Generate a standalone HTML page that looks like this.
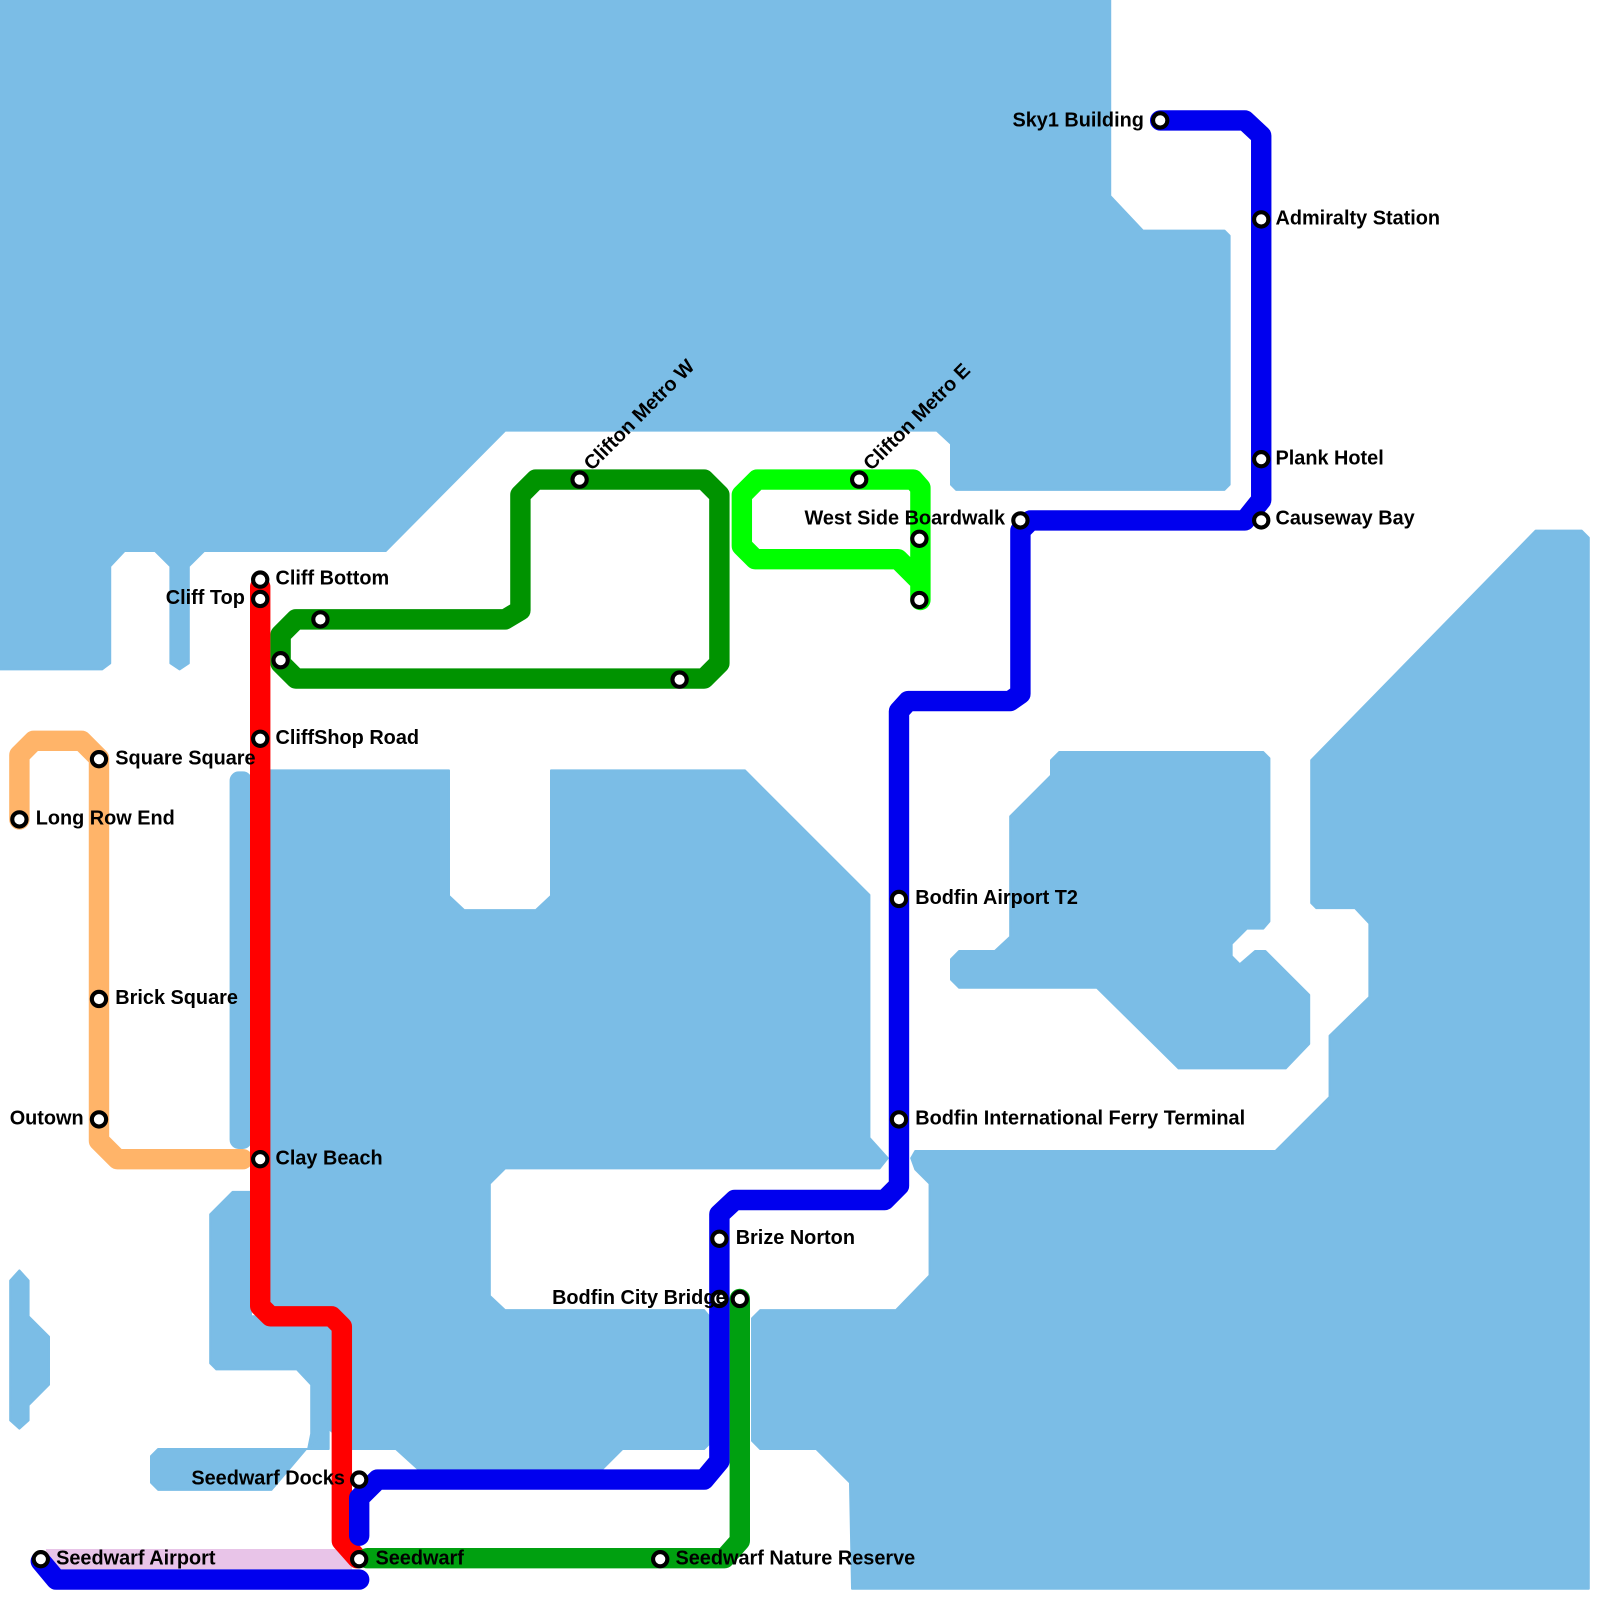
<!DOCTYPE html>
<html><head><meta charset="utf-8"><style>
html,body{margin:0;padding:0;background:#fff}
svg{display:block}
text{font-family:"Liberation Sans",Arial,sans-serif;font-weight:bold;font-size:19.5px;fill:#000}
</style></head><body>
<svg width="1600" height="1600" viewBox="0 0 1568 1568" xmlns="http://www.w3.org/2000/svg">
<g fill="#7bbde6" stroke="#7bbde6" stroke-width="2" stroke-linejoin="round">
<polygon points="0,0 1088,0 1088,192 1120,226 1200,226 1205,231 1205,475 1200,480 937,480 932,475 932,435 918,422 495,422 378,540 200,540 185,555 185,650 176,656 167,650 167,555 152,540 122,540 108,555 108,650 100,656 0,656"/>
<rect x="226" y="757" width="20" height="368" rx="8"/>
<polygon points="255,755 440,755 440,878 455,892 525,892 540,878 540,755 730,755 852,877 852,1115 870,1135 862,1145 495,1145 480,1160 480,1270 495,1284 690,1284 695,1290 695,1415 690,1420 610,1420 590,1440 410,1440 388,1420 345,1420 322,1400 322,1300 255,1290"/>
<polygon points="206,1190 228,1168 246,1168 246,1290 322,1290 322,1420 302,1420 305,1405 305,1357 291,1342 212,1342 206,1336"/>
<polygon points="155,1420 302,1420 322,1398 322,1420 300,1420 266,1460 155,1460 148,1453 148,1427"/>
<polygon points="10,1255 19,1245 28,1255 28,1290 48,1310 48,1357 28,1377 28,1392 19,1400 10,1392"/>
<polygon points="897,1128 1250,1128 1303,1075 1303,1015 1342,977 1342,905 1328,890 1290,890 1285,885 1285,745 1505,520 1550,520 1557,527 1557,1557 835,1557 833,1453 800,1420 745,1420 737,1412 737,1292 745,1284 878,1284 911,1250 911,1160 897,1146 893,1135"/>
<polygon points="1030,745 1038,737 1238,737 1244,743 1244,903 1238,910 1222,910 1207,925 1207,937 1215,945 1230,932 1240,932 1283,975 1283,1023 1260,1047 1155,1047 1075,968 940,968 932,960 932,940 940,932 975,932 990,918 990,800 1030,760"/>
</g>
<g fill="none" stroke-width="20" stroke-linejoin="round" stroke-linecap="round">
<polyline stroke="#e8c4e8" stroke-linecap="butt" points="45,1528 345,1528"/>
<polyline stroke="#ffb469" points="19,803 19,740 33,726 80,726 97,743 97,1118 115,1136 238,1136"/>
<polyline stroke="#ff0000" points="255,575 255,1280 265,1290 325,1290 335,1300 335,1510 350,1527"/>
<path stroke="#009300" d="M510,598 L510,485 L525,470 L690,470 L705,485 L705,650 L690,665 L290,665 L275,650 L275,622 L290,607 L495,607 Z"/>
<path stroke="#00ff00" d="M880,548 L740,548 L727,535 L727,485 L742,470 L895,470 L902,478 L902,588 M880,548 L902,570"/>
<polyline stroke="#00a010" points="725,1273 725,1510 710,1527 360,1527"/>
<polyline stroke="#0000ee" points="1137,118 1220,118 1236,133 1236,490 1220,510 1010,510 1000,520 1000,680 990,687 890,687 881,697 881,1162 867,1176 720,1176 705,1190 705,1432 690,1450 370,1450 352,1468 352,1505"/>
<polyline stroke="#0000ee" points="40,1530 55,1548 352,1548"/>
</g>
<g fill="#fff" stroke="#000" stroke-width="4">
<circle cx="1137" cy="118" r="7"/><circle cx="1236" cy="215" r="7"/><circle cx="1236" cy="450" r="7"/><circle cx="1236" cy="510" r="7"/>
<circle cx="1000" cy="510" r="7"/><circle cx="255" cy="568" r="7"/><circle cx="255" cy="587" r="7"/><circle cx="314" cy="607" r="7"/>
<circle cx="275" cy="647" r="7"/><circle cx="666" cy="666" r="7"/><circle cx="901" cy="528" r="7"/><circle cx="901" cy="588" r="7"/>
<circle cx="568" cy="470" r="7"/><circle cx="842" cy="470" r="7"/><circle cx="255" cy="724" r="7"/><circle cx="97" cy="744" r="7"/>
<circle cx="19" cy="803" r="7"/><circle cx="97" cy="979" r="7"/><circle cx="97" cy="1097" r="7"/><circle cx="255" cy="1136" r="7"/>
<circle cx="881" cy="881" r="7"/><circle cx="881" cy="1097" r="7"/><circle cx="705" cy="1214" r="7"/><circle cx="705" cy="1273" r="7"/>
<circle cx="725" cy="1273" r="7"/><circle cx="352" cy="1450" r="7"/><circle cx="40" cy="1528" r="7"/><circle cx="352" cy="1528" r="7"/>
<circle cx="647" cy="1528" r="7"/>
</g>
<text x="1121" y="124" text-anchor="end">Sky1 Building</text>
<text x="1250" y="220">Admiralty Station</text>
<text x="1250" y="455">Plank Hotel</text>
<text x="1250" y="514">Causeway Bay</text>
<text x="985" y="514" text-anchor="end">West Side Boardwalk</text>
<text x="270" y="573">Cliff Bottom</text>
<text x="240" y="592" text-anchor="end">Cliff Top</text>
<text x="270" y="729">CliffShop Road</text>
<text x="113" y="749">Square Square</text>
<text x="35" y="808">Long Row End</text>
<text x="113" y="984">Brick Square</text>
<text x="82" y="1102" text-anchor="end">Outown</text>
<text x="270" y="1141">Clay Beach</text>
<text x="897" y="886">Bodfin Airport T2</text>
<text x="897" y="1102">Bodfin International Ferry Terminal</text>
<text x="721" y="1219">Brize Norton</text>
<text x="712" y="1278" text-anchor="end">Bodfin City Bridge</text>
<text x="338" y="1455" text-anchor="end">Seedwarf Docks</text>
<text x="55" y="1533">Seedwarf Airport</text>
<text x="368" y="1533">Seedwarf</text>
<text x="662" y="1533">Seedwarf Nature Reserve</text>
<text transform="translate(580,462) rotate(-45)">Clifton Metro W</text>
<text transform="translate(854,462) rotate(-45)">Clifton Metro E</text>
</svg>
</body></html>
